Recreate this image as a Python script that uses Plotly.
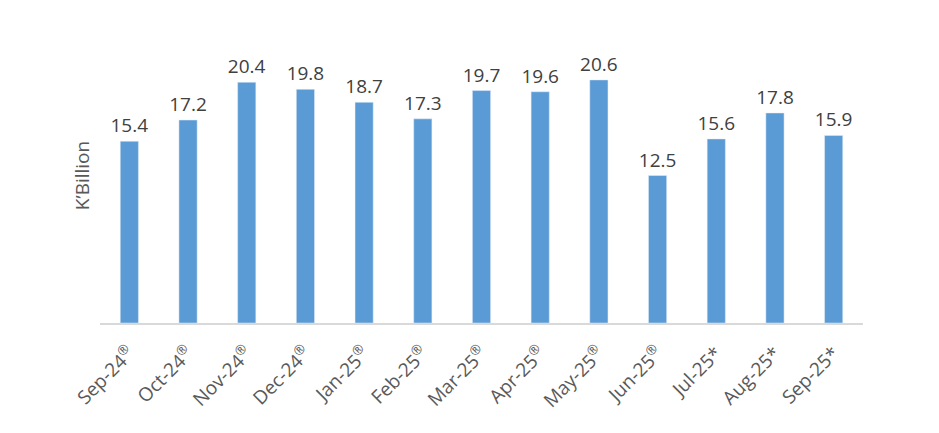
import plotly.graph_objects as go

months = ["Sep-24®", "Oct-24®", "Nov-24®", "Dec-24®", "Jan-25®", "Feb-25®", "Mar-25®",
          "Apr-25®", "May-25®", "Jun-25®", "Jul-25*", "Aug-25*", "Sep-25*"]
values = [15.4, 17.2, 20.4, 19.8, 18.7, 17.3, 19.7, 19.6, 20.6, 12.5, 15.6, 17.8, 15.9]

tick_text = [m.replace("®", "<sup>®</sup>") for m in months]

fig = go.Figure(go.Bar(
    x=months, y=values,
    marker_color="#5B9BD5",
    text=[f"{v:.1f}" for v in values],
    textposition="outside",
    constraintext="none",
    textfont=dict(size=19, color="#404040", family="Open Sans"),
    cliponaxis=False,
    hoverinfo="skip",
))
fig.update_layout(
    width=939, height=433,
    margin=dict(l=100, r=76, t=28, b=110),
    plot_bgcolor="white", paper_bgcolor="white",
    bargap=0.69,
    showlegend=False,
    uniformtext=dict(minsize=19, mode="show"),
    font=dict(family="Open Sans", color="#595959"),
    xaxis=dict(tickangle=-45, tickfont=dict(size=19, color="#595959"),
               tickmode="array", tickvals=months, ticktext=tick_text,
               ticklabelstandoff=10,
               showline=True, linecolor="#D9D9D9", linewidth=1.5, ticks=""),
    yaxis=dict(range=[0, 25], showticklabels=False, showgrid=False, zeroline=False,
               title=dict(text="K’Billion", font=dict(size=19, color="#595959"), standoff=4)),
)
fig.write_html("out.html", config={"displayModeBar": False})
with open("out.html", encoding="utf-8") as f:
    html = f.read()
html = html.replace("<body>", '<body style="margin:0;overflow:hidden">', 1)
with open("out.html", "w", encoding="utf-8") as f:
    f.write(html)
